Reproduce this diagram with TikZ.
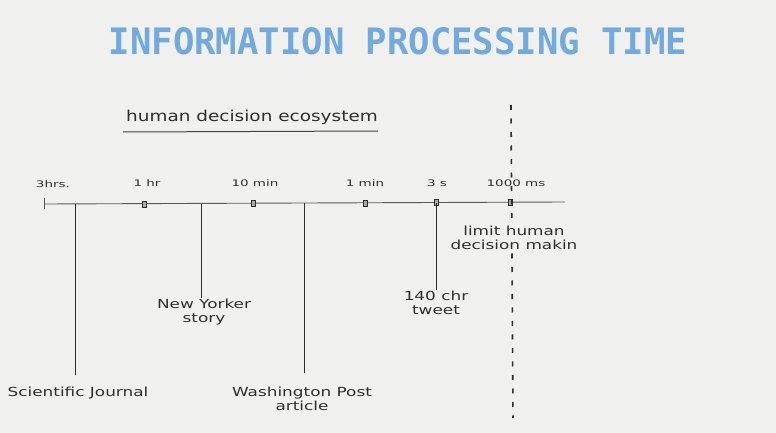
\documentclass[tikz,border=0pt]{standalone}
\usepackage{fontspec}
\setmainfont{DejaVu Sans}
\newfontfamily\titlefont{DejaVu Sans Mono}
\definecolor{paper}{HTML}{F0F0EE}
\definecolor{ink}{HTML}{2E2E2E}
\definecolor{titleblue}{HTML}{72AADD}
\begin{document}
\begin{tikzpicture}[x=1pt,y=-1pt,
  lbl/.style={font=\fontsize{12.5}{14}\selectfont, text=ink, align=center, inner sep=1pt, xscale=1.35, transform shape},
  axislbl/.style={font=\fontsize{9}{10}\selectfont, text=ink, inner sep=1pt, xscale=1.5, transform shape},
  tickmark/.style={draw=ink, fill=ink!40, minimum width=4pt, minimum height=6pt, inner sep=0pt, line width=0.8pt},
  leader/.style={draw=ink, line width=0.8pt},
  axis/.style={draw=ink!80, line width=0.9pt},
  limit/.style={draw=ink, line width=1.6pt, dash pattern=on 5pt off 8.5pt}]
\fill[paper] (0,0) rectangle (776,433);
\useasboundingbox (0,0) rectangle (776,433);
% title
\node[text=titleblue, inner sep=0pt] (title) at (398,41)
  {\resizebox{578pt}{27pt}{\titlefont\bfseries INFORMATION PROCESSING TIME}};
% subtitle
\node[font=\fontsize{15}{17}\selectfont, text=ink, inner sep=0pt, xscale=1.23, transform shape] (sub) at (252,117) {human decision ecosystem};
\coordinate (ul1) at (123,132);
\coordinate (ul2) at (378,131);
\draw[draw=ink!90, line width=1pt] (ul1) -- (ul2);
% axis
\coordinate (a0) at (44,204);
\coordinate (aend) at (565,202);
\draw[axis] (a0) -- (aend);
\coordinate (t0a) at (44,198);
\coordinate (t0b) at (44,209);
\draw[axis] (t0a) -- (t0b);
% markers
\node[tickmark] (m1) at (144,204) {};
\node[tickmark] (m2) at (253,203.5) {};
\node[tickmark] (m3) at (365,203) {};
\node[tickmark] (m4) at (436,202.5) {};
\node[tickmark] (m5) at (510,202.5) {};
% axis labels
\node[axislbl] (l0) at (53,184) {3hrs.};
\node[axislbl] (l1) at (147,183) {1 hr};
\node[axislbl] (l2) at (255,183) {10 min};
\node[axislbl] (l3) at (365,183) {1 min};
\node[axislbl] (l4) at (437,183) {3 s};
\node[axislbl] (l5) at (516,183) {1000 ms};
% limit line
\coordinate (lim1) at (511,105);
\coordinate (lim2) at (513,418);
\draw[limit] (lim1) -- (lim2);
\node[lbl, fill=paper, inner sep=2pt] (limit) at (514,238) {limit human\\decision makin};
% leaders
\coordinate (p1) at (75,204);
\coordinate (p2) at (201,203.5);
\coordinate (p3) at (304,203);
\coordinate (p4) at (436,202.5);
\node[lbl] (sj) at (78,393) {Scientific Journal};
\node[lbl] (ny) at (204,312) {New Yorker\\story};
\node[lbl] (wp) at (302,399) {Washington Post\\article};
\node[lbl] (tw) at (436,303) {140 chr\\tweet};
\draw[leader] (p1) -- (75,375);
\draw[leader] (p2) -- (ny.north -| p2);
\draw[leader] (p3) -- (304,373);
\draw[leader] (p4) -- (tw.north -| p4);
\end{tikzpicture}
\end{document}
